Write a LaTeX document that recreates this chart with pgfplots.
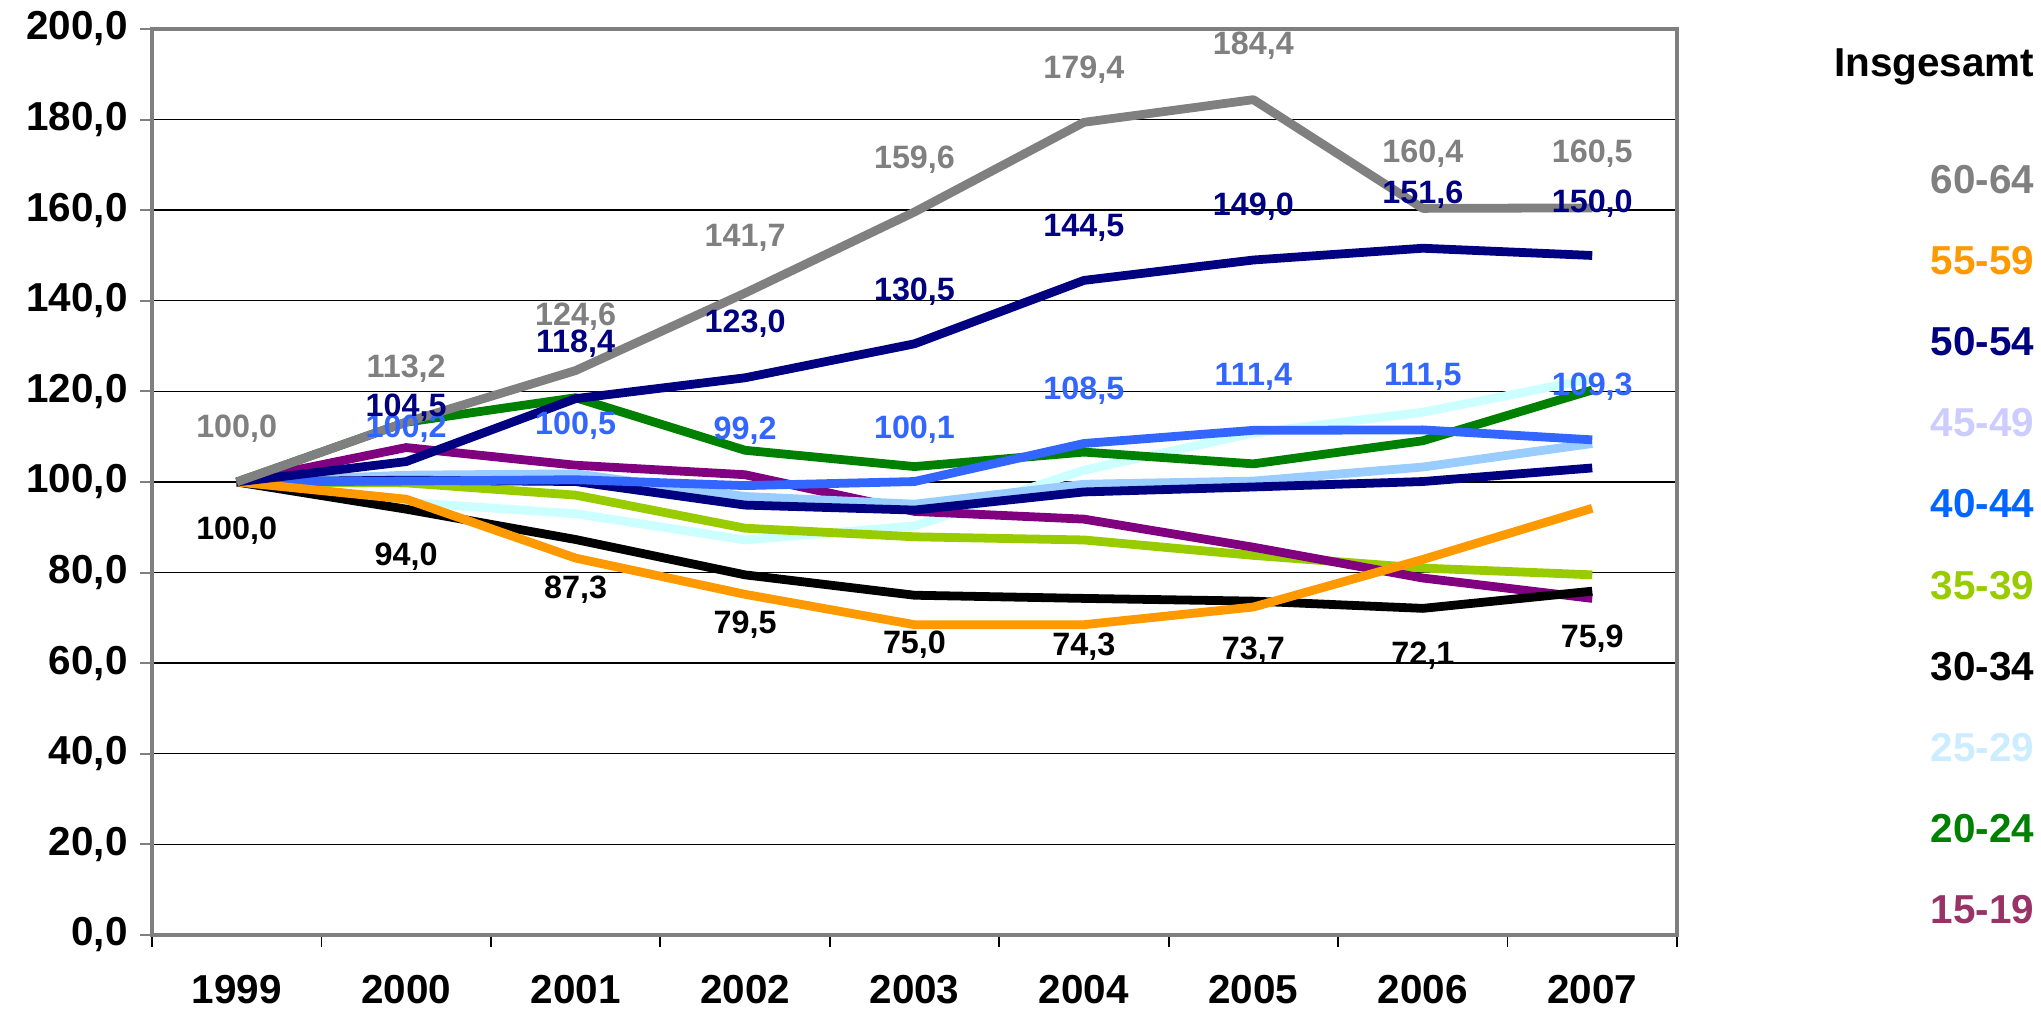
\documentclass[border=0pt]{standalone}
\usepackage{pgfplots}
\usepackage{pgfplotstable}
\pgfplotsset{compat=1.18}
\usepackage{fontspec}
\setmainfont{Liberation Sans}
\definecolor{cGray}{HTML}{808080}
\definecolor{cOrange}{HTML}{FF9900}
\definecolor{cNavy}{HTML}{000080}
\definecolor{cLightBlue}{HTML}{99CCFF}
\definecolor{cBlue}{HTML}{3366FF}
\definecolor{cLime}{HTML}{99CC00}
\definecolor{cCyan}{HTML}{CCFFFF}
\definecolor{cGreen}{HTML}{008000}
\definecolor{cPurple}{HTML}{800080}
\definecolor{lLav}{HTML}{CCCCFF}
\definecolor{lBlue}{HTML}{0066FF}
\definecolor{lCyan}{HTML}{CCECFF}
\definecolor{lPurple}{HTML}{993366}
\definecolor{axGray}{HTML}{7F7F7F}

\pgfplotstableread{
x a6064 a5559 a5054 a4549 a4044 a3539 a3034 a2529 a2024 a1519 ages
0 100   100  100   100   100   100  100  100   100   100   100
1 113.2 96.2 104.5 101.5 100.2 99.8 94.0 95.5  113.2 107.6 100.4
2 124.6 83.2 118.4 101.8 100.5 97.1 87.3 93.0  118.6 103.7 100.1
3 141.7 75.2 123.0 96.8  99.2  89.8 79.5 87.2  107.0 101.6 94.9
4 159.6 68.5 130.5 95.1  100.1 87.9 75.0 90.3  103.4 93.5  93.8
5 179.4 68.5 144.5 99.5  108.5 87.2 74.3 102.6 106.6 91.8  97.8
6 184.4 72.4 149.0 100.2 111.4 83.8 73.7 110.8 104.0 85.6  98.9
7 160.4 82.9 151.6 103.3 111.5 81.0 72.1 115.4 109.1 78.8  100.1
8 160.5 94.2 150.0 108.5 109.3 79.5 75.9 122.8 120.3 74.3  103.1
}\datatable

\pgfplotstableread{
x y t
0 111.8 100,0
1 125.0 113,2
2 136.4 124,6
3 153.8 141,7
4 171.2 159,6
5 191.0 179,4
6 196.2 184,4
7 172.5 160,4
8 172.5 160,5
}\labgray

\pgfplotstableread{
x y t
1 116.5 104,5
2 130.5 118,4
3 134.9 123,0
4 142.1 130,5
5 156.1 144,5
6 160.7 149,0
7 163.5 151,6
8 161.5 150,0
}\labnavy

\pgfplotstableread{
x y t
1 111.8 100,2
2 112.5 100,5
3 111.3 99,2
4 111.5 100,1
5 120.2 108,5
6 123.2 111,4
7 123.2 111,5
8 121.0 109,3
}\labblue

\pgfplotstableread{
x y t
0 89.3 100,0
1 83.4 94,0
2 76.3 87,3
3 68.5 79,5
4 64.0 75,0
5 63.7 74,3
6 62.8 73,7
7 61.6 72,1
8 65.5 75,9
}\labblack

\begin{document}
\begin{tikzpicture}
\begin{axis}[
  scale only axis,
  width=152.5mm, height=90.6mm,
  xmin=-0.5, xmax=8.5, ymin=0, ymax=200,
  xtick={0,...,8},
  xticklabels={1999,2000,2001,2002,2003,2004,2005,2006,2007},
  minor xtick={-0.5,0.5,...,8.5},
  ytick={0,20,...,200},
  ymajorgrids,
  grid style={black, line width=0.4pt},
  tick align=outside, tick pos=left,
  major tick length=1.2mm, minor tick length=1.2mm,
  major x tick style={draw=none},
  minor x tick style={black, line width=0.5pt},
  major y tick style={axGray, line width=0.6pt},
  axis line style={axGray, line width=1pt},
  tick label style={font=\fontsize{11.5}{13}\selectfont\bfseries},
  yticklabel style={/pgf/number format/.cd, fixed, fixed zerofill, precision=1, use comma, 1000 sep={}, assume math mode=true},
  xticklabel style={yshift=-1.6mm},
  clip=false,
  every axis plot/.append style={line width=2.5pt, line join=round, mark=none},
  lab/.style={draw=none, mark=none, nodes near coords, point meta=explicit symbolic,
     nodes near coords align={center},
     every node near coord/.append style={anchor=center, inner sep=0pt, font=\fontsize{9.2}{11}\selectfont\bfseries, text=#1}},
]
\addplot[cCyan]      table[x=x, y=a2529] {\datatable};
\addplot[cLime]      table[x=x, y=a3539] {\datatable};
\addplot[cPurple]    table[x=x, y=a1519] {\datatable};
\addplot[cGreen]     table[x=x, y=a2024] {\datatable};
\addplot[cLightBlue] table[x=x, y=a4549] {\datatable};
\addplot[cNavy]      table[x=x, y=ages]  {\datatable};
\addplot[cBlue]      table[x=x, y=a4044] {\datatable};
\addplot[black]      table[x=x, y=a3034] {\datatable};
\addplot[cOrange]    table[x=x, y=a5559] {\datatable};
\addplot[cNavy]      table[x=x, y=a5054] {\datatable};
\addplot[cGray]      table[x=x, y=a6064] {\datatable};

\addplot[lab=black] table[x=x, y=y, meta=t] {\labblack};
\addplot[lab=cBlue] table[x=x, y=y, meta=t] {\labblue};
\addplot[lab=cNavy] table[x=x, y=y, meta=t] {\labnavy};
\addplot[lab=cGray] table[x=x, y=y, meta=t] {\labgray};

\begin{scope}[every node/.style={anchor=base east, inner sep=0pt, font=\fontsize{11.5}{13}\selectfont\bfseries}]
\node[text=black]   at (rel axis cs:1.2348,0.9476) {Insgesamt};
\node[text=cGray]   at (rel axis cs:1.2348,0.8183) {60-64};
\node[text=cOrange] at (rel axis cs:1.2348,0.7288) {55-59};
\node[text=cNavy]   at (rel axis cs:1.2348,0.6393) {50-54};
\node[text=lLav]    at (rel axis cs:1.2348,0.5498) {45-49};
\node[text=lBlue]   at (rel axis cs:1.2348,0.4603) {40-44};
\node[text=cLime]   at (rel axis cs:1.2348,0.3708) {35-39};
\node[text=black]   at (rel axis cs:1.2348,0.2813) {30-34};
\node[text=lCyan]   at (rel axis cs:1.2348,0.1918) {25-29};
\node[text=cGreen]  at (rel axis cs:1.2348,0.1023) {20-24};
\node[text=lPurple] at (rel axis cs:1.2348,0.0128) {15-19};
\end{scope}
\end{axis}
\pgfresetboundingbox
\useasboundingbox (-15.2mm,-7.6mm) rectangle (188.9mm,90.6mm+2.9mm);
\end{tikzpicture}
\end{document}
